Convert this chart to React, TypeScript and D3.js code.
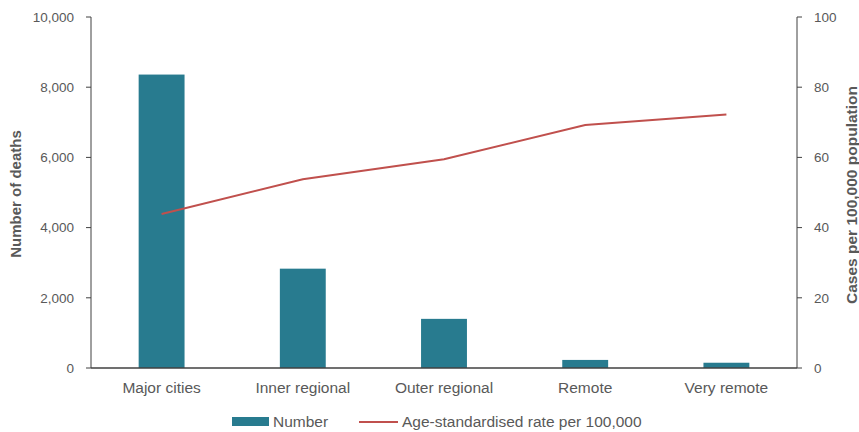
import React from "react";
import * as d3 from "d3";

const categories = ["Major cities", "Inner regional", "Outer regional", "Remote", "Very remote"];
const deaths = [8360, 2830, 1400, 230, 150];
const rates = [43.9, 53.8, 59.5, 69.2, 72.2];
const leftTicks = [0, 2000, 4000, 6000, 8000, 10000];
const rightTicks = [0, 20, 40, 60, 80, 100];

const W = 859, H = 432;
const L = 91, R = 797, T = 17, B = 368;
const FONT = "'Liberation Sans', Arial, sans-serif";
const TXT = "#595959";
const BAR = "#287b8f";
const LINE = "#c0504d";

export default function App() {
  const x = d3.scaleBand<string>().domain(categories).range([L, R]).paddingInner(0.675).paddingOuter(0.3375);
  const yL = d3.scaleLinear().domain([0, 10000]).range([B, T]);
  const yR = d3.scaleLinear().domain([0, 100]).range([B, T]);
  const fmt = d3.format(",");
  const cx = (c: string) => (x(c) as number) + x.bandwidth() / 2;
  const line = d3.line<number>().x((_, i) => cx(categories[i])).y((d) => yR(d));

  return (
    <svg width={W} height={H} style={{ position: "absolute", left: 0, top: 0, background: "#fff" }} fontFamily={FONT}>
      {deaths.map((d, i) => (
        <rect key={i} x={x(categories[i])} y={yL(d)} width={x.bandwidth()} height={B - yL(d)} fill={BAR} />
      ))}
      <path d={line(rates) || ""} fill="none" stroke={LINE} strokeWidth={2} />
      {/* left axis */}
      <line x1={L} x2={L} y1={T} y2={B} stroke="#404040" strokeWidth={1} />
      {leftTicks.map((t) => (
        <g key={t}>
          <line x1={L - 5} x2={L} y1={yL(t)} y2={yL(t)} stroke="#404040" />
          <text x={L - 17} y={yL(t)} dy="0.35em" textAnchor="end" fontSize={13.5} fill={TXT}>{fmt(t)}</text>
        </g>
      ))}
      {/* right axis */}
      <line x1={R} x2={R} y1={T} y2={B} stroke="#404040" strokeWidth={1} />
      {rightTicks.map((t) => (
        <g key={t}>
          <line x1={R} x2={R + 5} y1={yR(t)} y2={yR(t)} stroke="#404040" />
          <text x={R + 17} y={yR(t)} dy="0.35em" textAnchor="start" fontSize={13.5} fill={TXT}>{t}</text>
        </g>
      ))}
      {/* bottom axis */}
      <line x1={L} x2={R} y1={B} y2={B} stroke="#404040" strokeWidth={1.5} />
      {categories.map((c) => (
        <text key={c} x={cx(c)} y={393} textAnchor="middle" fontSize={15.5} fill={TXT}>{c}</text>
      ))}
      {/* axis titles */}
      <text transform={`translate(21,194) rotate(-90)`} textAnchor="middle" fontSize={15} fontWeight="bold" fill={TXT}>Number of deaths</text>
      <text transform={`translate(857,195) rotate(-90)`} textAnchor="middle" fontSize={15.5} fontWeight="bold" fill={TXT}>Cases per 100,000 population</text>
      {/* legend */}
      <rect x={232} y={417} width={37} height={9} fill={BAR} />
      <text x={273} y={427} fontSize={15.5} fill={TXT}>Number</text>
      <line x1={359} x2={398} y1={422} y2={422} stroke={LINE} strokeWidth={2} />
      <text x={402} y={427} fontSize={15.5} fill={TXT}>Age-standardised rate per 100,000</text>
    </svg>
  );
}
